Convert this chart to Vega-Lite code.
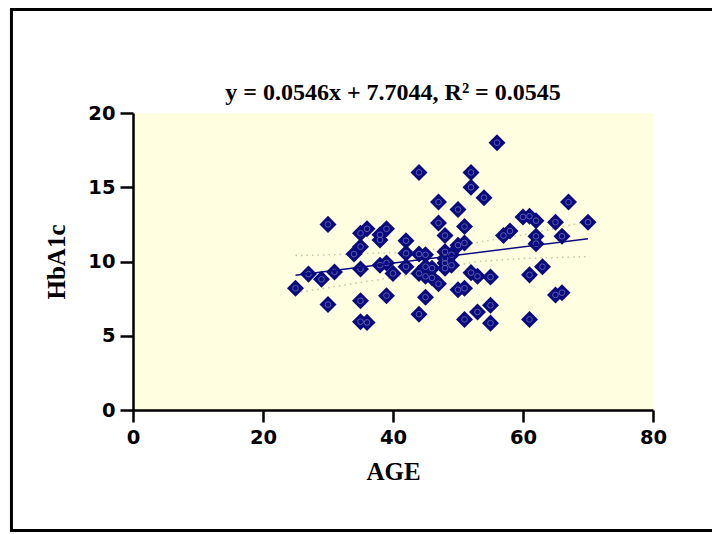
{
  "$schema": "https://vega.github.io/schema/vega-lite/v6.json",
  "width": 520,
  "height": 297,
  "autosize": {"type": "none"},
  "padding": {"left": 133, "top": 113, "right": 59, "bottom": 124},
  "background": "white",
  "title": {
    "text": "y = 0.0546x + 7.7044, R² = 0.0545",
    "font": "Liberation Serif",
    "fontSize": 24,
    "fontWeight": "bold",
    "color": "black",
    "anchor": "middle",
    "frame": "group",
    "offset": -97
  },
  "config": {
    "view": {"fill": "#fffee0", "stroke": null},
    "axis": {
      "grid": false,
      "domainColor": "black",
      "domainWidth": 2.5,
      "tickColor": "black",
      "tickWidth": 2.5,
      "labelFont": "DejaVu Sans",
      "labelFontSize": 19.5,
      "labelFontWeight": "bold",
      "labelColor": "black",
      "titleFont": "Liberation Serif",
      "titleFontSize": 25,
      "titleFontWeight": "bold",
      "titleColor": "black",
      "labelFlush": false,
      "labelOverlap": false
    }
  },
  "datasets": {
    "points": [
      {"age": 25, "hba1c": 8.2}, {"age": 27, "hba1c": 9.15}, {"age": 29, "hba1c": 8.8},
      {"age": 30, "hba1c": 12.5}, {"age": 30, "hba1c": 7.1}, {"age": 31, "hba1c": 9.3},
      {"age": 34, "hba1c": 10.5}, {"age": 35, "hba1c": 11.0}, {"age": 35, "hba1c": 11.9},
      {"age": 35, "hba1c": 9.5}, {"age": 35, "hba1c": 7.35}, {"age": 35, "hba1c": 5.95},
      {"age": 36, "hba1c": 12.2}, {"age": 36, "hba1c": 5.9}, {"age": 38, "hba1c": 11.8},
      {"age": 38, "hba1c": 11.45}, {"age": 38, "hba1c": 9.75}, {"age": 39, "hba1c": 12.2},
      {"age": 39, "hba1c": 9.9}, {"age": 39, "hba1c": 7.7}, {"age": 40, "hba1c": 9.2},
      {"age": 42, "hba1c": 11.4}, {"age": 42, "hba1c": 10.55}, {"age": 42, "hba1c": 9.65},
      {"age": 44, "hba1c": 16.0}, {"age": 44, "hba1c": 10.5}, {"age": 44, "hba1c": 9.2},
      {"age": 44, "hba1c": 6.45}, {"age": 45, "hba1c": 10.45}, {"age": 45, "hba1c": 9.65},
      {"age": 45, "hba1c": 9.0}, {"age": 45, "hba1c": 7.6}, {"age": 46, "hba1c": 9.55},
      {"age": 46, "hba1c": 8.9}, {"age": 47, "hba1c": 14.0}, {"age": 47, "hba1c": 12.6},
      {"age": 47, "hba1c": 8.5}, {"age": 48, "hba1c": 11.75}, {"age": 48, "hba1c": 10.65},
      {"age": 48, "hba1c": 10.2}, {"age": 48, "hba1c": 9.55}, {"age": 48, "hba1c": 9.9},
      {"age": 49, "hba1c": 10.45}, {"age": 49, "hba1c": 9.75}, {"age": 50, "hba1c": 13.5},
      {"age": 50, "hba1c": 11.1}, {"age": 50, "hba1c": 8.1}, {"age": 51, "hba1c": 12.35},
      {"age": 51, "hba1c": 11.25}, {"age": 51, "hba1c": 8.2}, {"age": 51, "hba1c": 6.1},
      {"age": 52, "hba1c": 16.0}, {"age": 52, "hba1c": 15.0}, {"age": 52, "hba1c": 9.25},
      {"age": 53, "hba1c": 9.0}, {"age": 53, "hba1c": 6.6}, {"age": 54, "hba1c": 14.3},
      {"age": 55, "hba1c": 8.95}, {"age": 55, "hba1c": 7.05}, {"age": 55, "hba1c": 5.85},
      {"age": 56, "hba1c": 18.0}, {"age": 57, "hba1c": 11.75}, {"age": 58, "hba1c": 12.05},
      {"age": 60, "hba1c": 13.0}, {"age": 61, "hba1c": 13.05}, {"age": 61, "hba1c": 9.1},
      {"age": 61, "hba1c": 6.1}, {"age": 62, "hba1c": 12.75}, {"age": 62, "hba1c": 11.7},
      {"age": 62, "hba1c": 11.2}, {"age": 63, "hba1c": 9.65}, {"age": 65, "hba1c": 12.65},
      {"age": 65, "hba1c": 7.75}, {"age": 66, "hba1c": 11.7}, {"age": 66, "hba1c": 7.9},
      {"age": 67, "hba1c": 14.0}, {"age": 70, "hba1c": 12.65}
    ],
    "fit": [
      {"age": 25, "hba1c": 9.07}, {"age": 70, "hba1c": 11.53}
    ],
    "band": [
      {"bound": "upper", "age": 25, "hba1c": 10.4}, {"bound": "upper", "age": 33, "hba1c": 10.48},
      {"bound": "upper", "age": 41, "hba1c": 10.62}, {"bound": "upper", "age": 47, "hba1c": 10.85},
      {"bound": "upper", "age": 53, "hba1c": 11.3}, {"bound": "upper", "age": 60, "hba1c": 11.78},
      {"bound": "upper", "age": 70, "hba1c": 12.7},
      {"bound": "lower", "age": 25, "hba1c": 7.88}, {"bound": "lower", "age": 33, "hba1c": 8.45},
      {"bound": "lower", "age": 41, "hba1c": 9.0}, {"bound": "lower", "age": 47, "hba1c": 9.55},
      {"bound": "lower", "age": 53, "hba1c": 10.0}, {"bound": "lower", "age": 60, "hba1c": 10.2},
      {"bound": "lower", "age": 70, "hba1c": 10.33}
    ],
    "frame": [{"x1": -18.7, "x2": 90.5, "y1": -8.12, "y2": 26.97}]
  },
  "encoding": {
    "x": {
      "field": "age", "type": "quantitative",
      "scale": {"domain": [0, 80], "nice": false},
      "axis": {"values": [0, 20, 40, 60, 80], "title": "AGE", "tickSize": 12, "labelPadding": 6, "titlePadding": 13}
    },
    "y": {
      "field": "hba1c", "type": "quantitative",
      "scale": {"domain": [0, 20], "nice": false},
      "axis": {"values": [0, 5, 10, 15, 20], "title": "HbA1c", "tickSize": 13, "labelPadding": 5, "titlePadding": 18}
    }
  },
  "layer": [
    {
      "data": {"name": "frame"},
      "mark": {"type": "rect", "filled": false, "color": "black", "strokeWidth": 3, "clip": false},
      "encoding": {
        "x": {"field": "x1", "type": "quantitative"},
        "x2": {"field": "x2"},
        "y": {"field": "y1", "type": "quantitative"},
        "y2": {"field": "y2"}
      }
    },
    {
      "data": {"name": "band"},
      "mark": {"type": "line", "color": "#c9c3a8", "strokeWidth": 1.5, "strokeDash": [1.5, 4]},
      "encoding": {"detail": {"field": "bound"}}
    },
    {
      "data": {"name": "points"},
      "mark": {"type": "point", "shape": "diamond", "filled": true, "size": 290, "color": "#0b0b80", "opacity": 1}
    },
    {
      "data": {"name": "points"},
      "mark": {"type": "point", "shape": "circle", "filled": false, "size": 32, "color": "#5a5aac", "strokeWidth": 1, "opacity": 1}
    },
    {
      "data": {"name": "fit"},
      "mark": {"type": "line", "color": "#0b0b80", "strokeWidth": 1.5}
    }
  ]
}
